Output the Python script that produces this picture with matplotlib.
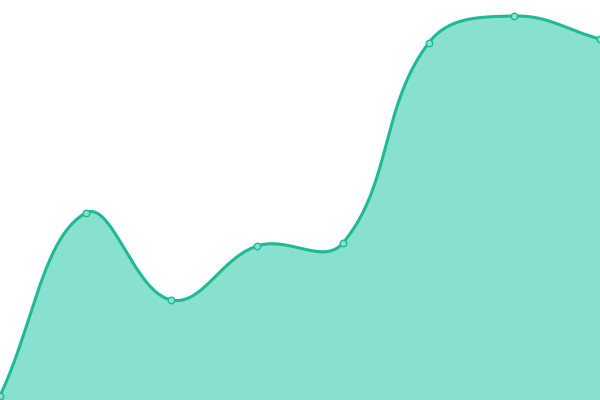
import numpy as np
import matplotlib
matplotlib.use("Agg")
import matplotlib.pyplot as plt

# data
xs = [0, 1, 2, 3, 4, 5, 6, 7]
values = [4, 187, 100, 154, 157, 357, 384, 361]

line_col = '#1fb996'
fill_col = '#88e0cf'

# x in pixel-like units so the spline tension behaves as on screen
px = np.array(xs) * 600 / 7
py = np.array(values, dtype=float)

def spline(x, y, t=0.4, n=40):
  # cardinal spline like chart.js default curve
  pts = np.column_stack((x, y))
  cps = []
  for i in range(len(pts)):
    prev = pts[max(i - 1, 0)]
    cur = pts[i]
    nxt = pts[min(i + 1, len(pts) - 1)]
    d01 = np.hypot(*(cur - prev))
    d12 = np.hypot(*(nxt - cur))
    tot = d01 + d12
    s01 = d01 / tot if tot else 0
    s12 = d12 / tot if tot else 0
    fa = t * s01
    fb = t * s12
    cps.append((cur - fa * (nxt - prev), cur + fb * (nxt - prev)))
  out = []
  tt = np.linspace(0, 1, n)[:, None]
  for i in range(len(pts) - 1):
    p0 = pts[i]
    p1 = cps[i][1]
    p2 = cps[i + 1][0]
    p3 = pts[i + 1]
    seg = ((1 - tt)**3) * p0 + 3 * ((1 - tt)**2) * tt * p1 + 3 * (1 - tt) * tt**2 * p2 + tt**3 * p3
    out.append(seg if i == 0 else seg[1:])
  out = np.vstack(out)
  return out[:, 0], out[:, 1]

sx, sy = spline(px, py)

fig = plt.figure(figsize=(6, 4), dpi=100)
ax = fig.add_axes([0, 0, 1, 1])
ax.fill_between(sx, sy, 0, color=fill_col, lw=0)
ax.plot(sx, sy, color=line_col, lw=2.2, solid_capstyle='round')
ax.scatter(px, py, s=22, facecolor=fill_col, edgecolor=line_col, lw=1, zorder=3, clip_on=True)
ax.set_xlim(0, 600)
ax.set_ylim(0, 400)
ax.axis('off')
fig.savefig('out.png', dpi=100)
